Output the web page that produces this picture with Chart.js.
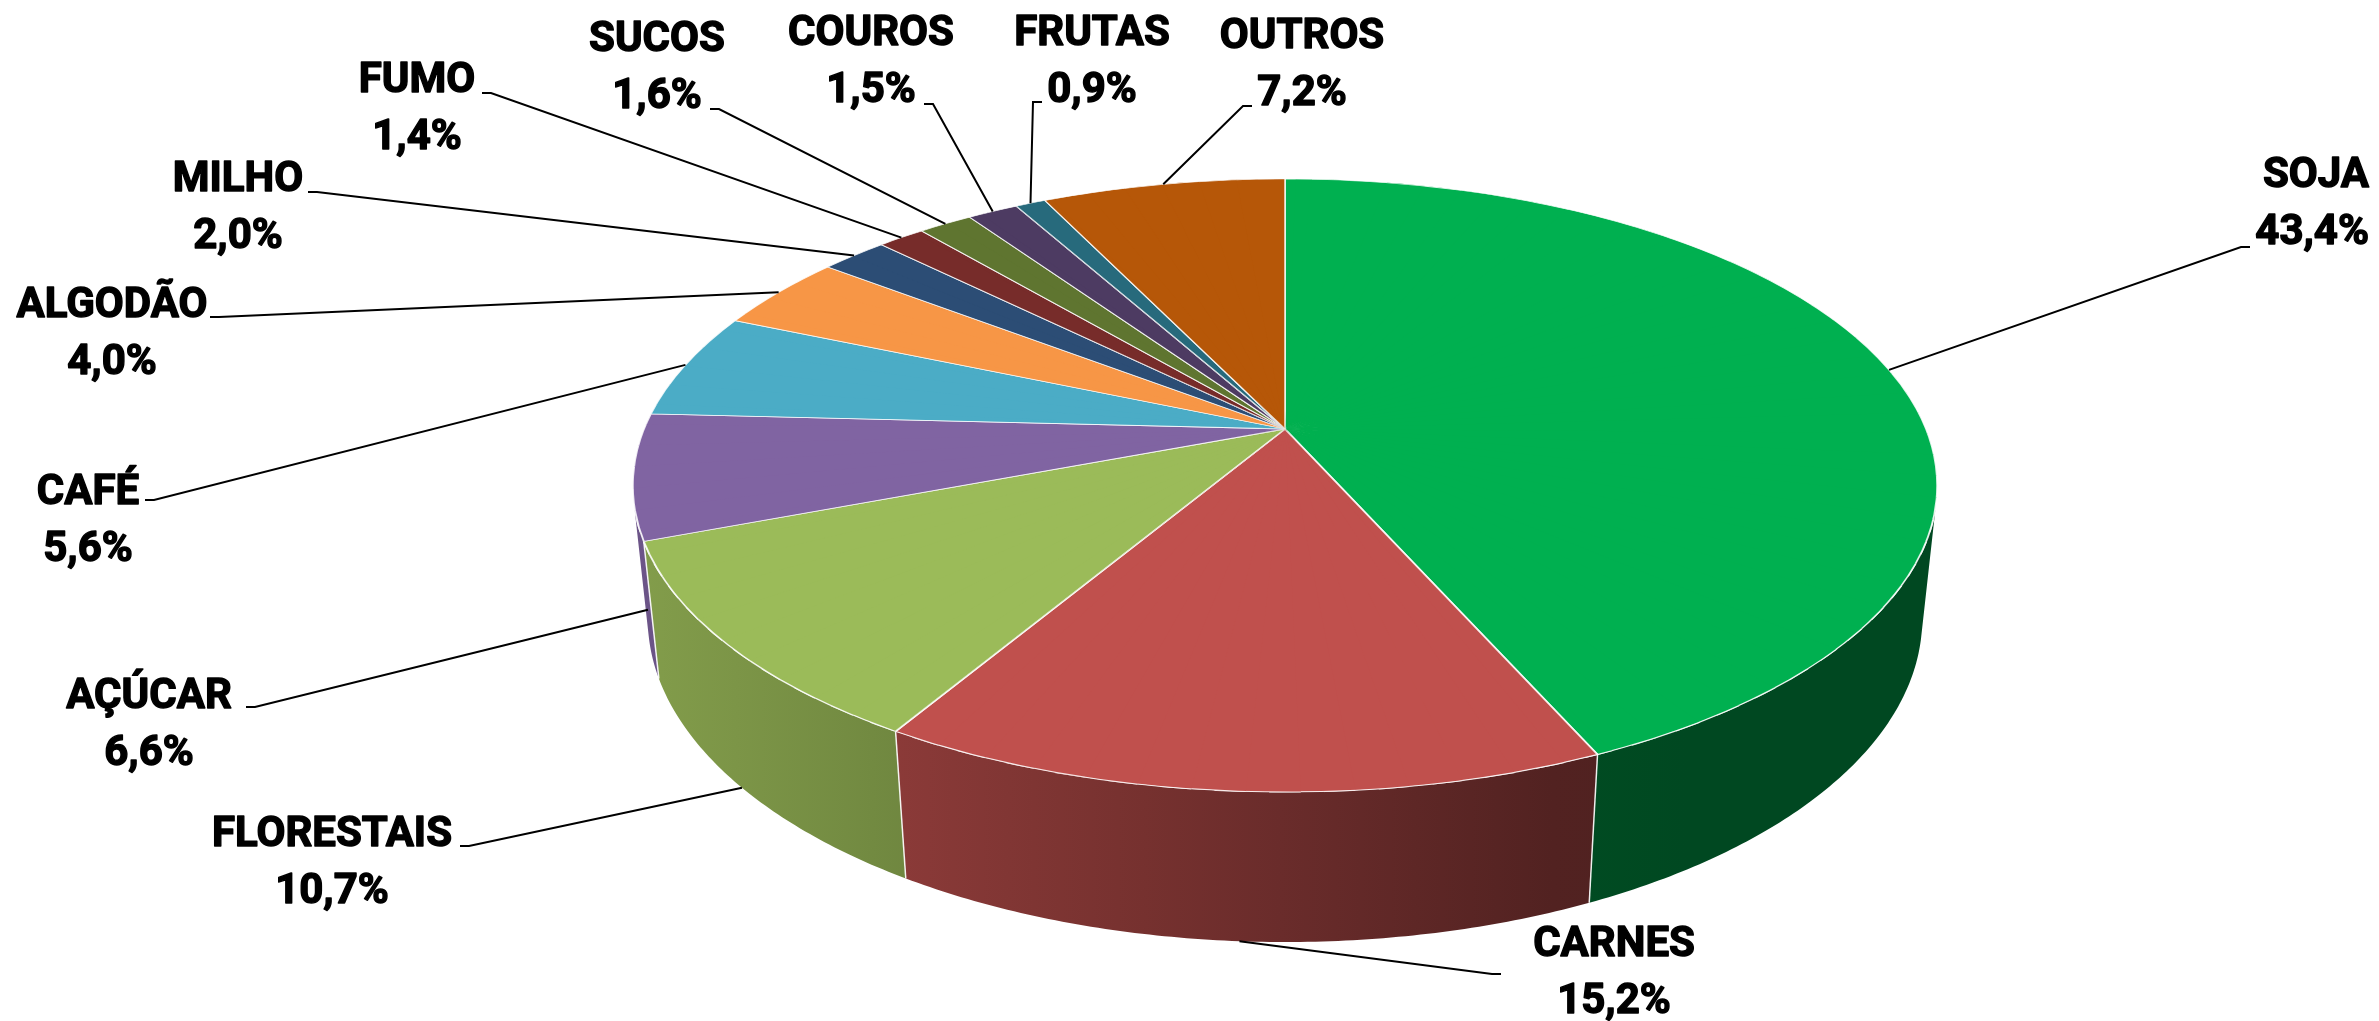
<!DOCTYPE html>
<html>
<head>
<meta charset="utf-8">
<script src="https://cdn.jsdelivr.net/npm/chart.js@4.4.1/dist/chart.umd.min.js"></script>
<style>
  html, body { margin: 0; padding: 0; background: #fff; }
  canvas { display: block; }
</style>
</head>
<body>
<canvas id="exportChart" width="2379" height="1021"></canvas>
<script>
// Share of each product group (%)
const categories = ['SOJA', 'CARNES', 'FLORESTAIS', 'AÇÚCAR', 'CAFÉ', 'ALGODÃO', 'MILHO', 'FUMO', 'SUCOS', 'COUROS', 'FRUTAS', 'OUTROS'];
const shares = [43.4, 15.2, 10.7, 6.6, 5.6, 4.0, 2.0, 1.4, 1.6, 1.5, 0.9, 7.2];
const sliceColors = ['#00B050', '#C0504D', '#9BBB59', '#8064A2', '#4BACC6', '#F79646', '#2C4D75', '#772C2A', '#5F7530', '#4D3B62', '#276A7C', '#B65708'];

// label placement: x, y of the name line (centre of caps), text alignment
const labelSpots = [
  [2369, 172, 'right'], [1614, 941, 'center'], [332, 831, 'center'], [149, 693, 'center'],
  [88, 489, 'center'], [112, 302, 'center'], [238, 176, 'center'], [417, 77, 'center'],
  [657, 36, 'center'], [871, 30, 'center'], [1092, 30, 'center'], [1302, 33, 'center']
];
// where each leader line meets its label
const leaderEnds = [
  [2250, 247], [1501, 974], [460, 846], [246, 707], [145, 500], [210, 317],
  [308, 192], [482, 93], [710, 109], [924, 104], [1042, 102], [1252, 106]
];

// tilted disc seen in perspective
const RIM = 641, TILT_COS = 0.462, TILT_SIN = 0.887, EYE = 3085, DEPTH = 151;
const PX = 1285, PY = 429;
// the wall is only seen between these angles
const WALL_FROM = Math.asin(RIM / (EYE * TILT_SIN));
const WALL_TO = Math.PI - WALL_FROM;

function project(X, Y, h) {
  const z = Y * TILT_SIN - h * TILT_COS;
  const w = 1 - z / EYE;
  return [PX + X / w, PY + (Y * TILT_COS + h * TILT_SIN) / w];
}
function rimPoint(angle, h) {
  return project(RIM * Math.cos(angle), RIM * Math.sin(angle), h);
}
function shade(hex, k) {
  const n = parseInt(hex.slice(1), 16);
  const r = Math.round(((n >> 16) & 255) * k);
  const g = Math.round(((n >> 8) & 255) * k);
  const b = Math.round((n & 255) * k);
  return `rgb(${r},${g},${b})`;
}
// side walls get darker towards the right
function wallLight(x) {
  return Math.max(0.41, Math.min(0.86, 0.84 - (x - 640) * 0.00045));
}

function drawWalls(ctx, arcs) {
  arcs.forEach((arc, i) => {
    const a0 = Math.max(arc.startAngle, WALL_FROM), a1 = Math.min(arc.endAngle, WALL_TO);
    if (a1 <= a0) return;
    const steps = Math.max(2, Math.ceil((a1 - a0) / 0.01));
    ctx.beginPath();
    for (let k = 0; k <= steps; k++) {
      const p = rimPoint(a0 + (a1 - a0) * k / steps, 0);
      if (k === 0) ctx.moveTo(p[0], p[1]); else ctx.lineTo(p[0], p[1]);
    }
    for (let k = steps; k >= 0; k--) {
      const p = rimPoint(a0 + (a1 - a0) * k / steps, DEPTH);
      ctx.lineTo(p[0], p[1]);
    }
    ctx.closePath();
    const grad = ctx.createLinearGradient(600, 0, 1960, 0);
    for (let s = 0; s <= 10; s++) {
      grad.addColorStop(s / 10, shade(sliceColors[i], wallLight(600 + 136 * s)));
    }
    ctx.fillStyle = grad;
    ctx.fill();
  });
  ctx.strokeStyle = 'rgba(255,255,255,0.9)';
  ctx.lineWidth = 1.5;
  arcs.forEach(arc => {
    const a = arc.startAngle;
    if (a > WALL_FROM && a < WALL_TO) {
      const p = rimPoint(a, 0), q = rimPoint(a, DEPTH);
      ctx.beginPath();
      ctx.moveTo(p[0], p[1]);
      ctx.lineTo(q[0], q[1]);
      ctx.stroke();
    }
  });
}

// the flat pie from Chart.js is laid onto the tilted disc wedge by wedge
function drawTop(ctx, arcs) {
  const cx = arcs[0].x, cy = arcs[0].y, r = arcs[0].outerRadius;
  const O = project(0, 0, 0);
  const N = 90;
  for (let i = 0; i < N; i++) {
    const t0 = -Math.PI / 2 + i * 2 * Math.PI / N, t1 = t0 + 2 * Math.PI / N;
    const ux = r * Math.cos(t0), uy = r * Math.sin(t0);
    const vx = r * Math.cos(t1), vy = r * Math.sin(t1);
    const P1 = rimPoint(t0, 0), P2 = rimPoint(t1, 0);
    const upx = P1[0] - O[0], upy = P1[1] - O[1];
    const vpx = P2[0] - O[0], vpy = P2[1] - O[1];
    const det = ux * vy - vx * uy;
    const a = (upx * vy - vpx * uy) / det, c = (vpx * ux - upx * vx) / det;
    const b = (upy * vy - vpy * uy) / det, d = (vpy * ux - upy * vx) / det;
    const e = O[0] - a * cx - c * cy, f = O[1] - b * cx - d * cy;
    ctx.save();
    ctx.setTransform(a, b, c, d, e, f);
    const mid = (t0 + t1) / 2, pad = 0.02, far = r * 1.12;
    ctx.beginPath();
    ctx.moveTo(cx - 4 * Math.cos(mid), cy - 4 * Math.sin(mid));
    ctx.lineTo(cx + far * Math.cos(t0 - pad), cy + far * Math.sin(t0 - pad));
    ctx.lineTo(cx + far * Math.cos(t1 + pad), cy + far * Math.sin(t1 + pad));
    ctx.closePath();
    ctx.clip();
    arcs.forEach(el => el.draw(ctx));
    ctx.restore();
  }
}

function drawLabels(ctx, arcs) {
  ctx.save();
  ctx.setTransform(1, 0, 0, 1, 0, 0);
  ctx.strokeStyle = '#000';
  ctx.lineWidth = 2;
  arcs.forEach((arc, i) => {
    const m = (arc.startAngle + arc.endAngle) / 2;
    const anchor = rimPoint(m, Math.sin(m) > 0 ? DEPTH : 0);
    const end = leaderEnds[i];
    const dir = anchor[0] > end[0] ? 1 : -1;
    ctx.beginPath();
    ctx.moveTo(anchor[0], anchor[1]);
    ctx.lineTo(end[0] + dir * 9, end[1]);
    ctx.lineTo(end[0], end[1]);
    ctx.stroke();
  });
  ctx.fillStyle = '#000';
  ctx.font = 'bold 42px Roboto';
  ctx.lineWidth = 1.4;
  ctx.lineJoin = 'round';
  categories.forEach((name, i) => {
    const [x, y, align] = labelSpots[i];
    const pct = shares[i].toFixed(1).replace('.', ',') + '%';
    ctx.textAlign = align;
    ctx.textBaseline = 'alphabetic';
    ctx.fillText(name, x, y + 15);
    ctx.strokeText(name, x, y + 15);
    ctx.fillText(pct, x, y + 72);
    ctx.strokeText(pct, x, y + 72);
  });
  ctx.restore();
}

const tiltPlugin = {
  id: 'tilt',
  beforeDatasetsDraw(chart) {
    const arcs = chart.getDatasetMeta(0).data;
    const ctx = chart.ctx;
    ctx.save();
    ctx.setTransform(1, 0, 0, 1, 0, 0);
    drawWalls(ctx, arcs);
    ctx.restore();
    drawTop(ctx, arcs);
    return false;
  },
  afterDraw(chart) {
    drawLabels(chart.ctx, chart.getDatasetMeta(0).data);
  }
};

new Chart(document.getElementById('exportChart'), {
  type: 'pie',
  data: {
    labels: categories,
    datasets: [{
      data: shares,
      backgroundColor: sliceColors,
      borderColor: 'rgba(255,255,255,0.85)',
      borderWidth: 1.4,
      clip: false
    }]
  },
  options: {
    responsive: false,
    animation: false,
    devicePixelRatio: 1,
    events: [],
    layout: { padding: 20 },
    plugins: {
      legend: { display: false },
      tooltip: { enabled: false }
    }
  },
  plugins: [tiltPlugin]
});
</script>
</body>
</html>
